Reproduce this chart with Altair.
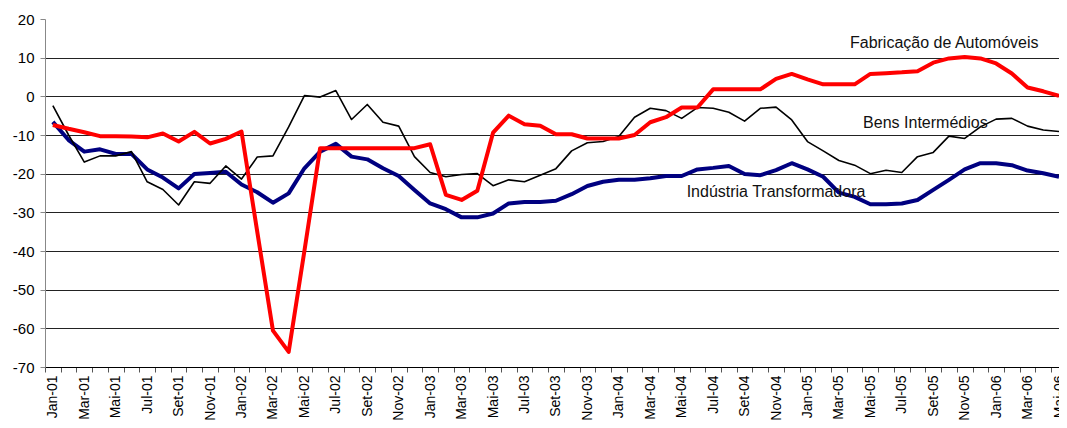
import json
import altair as alt
import pandas as pd

# ---- categories (x) ----
month_names = ["Jan", "Fev", "Mar", "Abr", "Mai", "Jun", "Jul", "Ago", "Set", "Out", "Nov", "Dez"]
months = [f"{m}-{y:02d}" for y in range(1, 7) for m in month_names][:65]

# ---- series values ----
fabricacao = [-7.4, -8.4, -9.3, -10.3, -10.3, -10.4, -10.6, -9.6, -11.7, -9.2, -12.2, -11.0,
              -9.1, -35.0, -60.6, -66.1, -40.0, -13.4, -13.4, -13.4, -13.4, -13.4, -13.4, -13.4,
              -12.4, -25.5, -26.8, -24.4, -9.4, -5.0, -7.2, -7.6, -9.8, -9.8, -10.9, -10.9,
              -10.9, -10.0, -6.7, -5.4, -2.9, -2.9, 1.8, 1.8, 1.8, 1.8, 4.5, 5.8,
              4.4, 3.1, 3.1, 3.1, 5.8, 6.0, 6.2, 6.5, 8.7, 9.8, 10.2, 9.8,
              8.5, 5.9, 2.3, 1.3, 0.1]
bens = [-2.4, -10.0, -17.0, -15.4, -15.4, -14.3, -22.1, -24.1, -28.1, -22.1, -22.5, -18.0,
        -21.4, -15.7, -15.4, -7.9, 0.2, -0.2, 1.5, -6.0, -2.1, -6.7, -7.7, -15.6,
        -19.7, -20.8, -20.2, -20.0, -23.1, -21.6, -22.1, -20.4, -18.7, -14.1, -12.0, -11.7,
        -10.4, -5.4, -3.1, -3.7, -5.7, -2.9, -3.1, -4.1, -6.4, -3.1, -2.8, -6.1,
        -11.7, -14.1, -16.6, -17.8, -20.0, -19.1, -19.7, -15.6, -14.5, -10.3, -10.9, -7.9,
        -5.9, -5.7, -7.7, -8.7, -9.1]
industria = [-6.6, -11.3, -14.3, -13.7, -14.9, -14.9, -18.9, -21.0, -23.8, -20.1, -19.8, -19.5,
             -22.8, -24.8, -27.5, -25.1, -18.6, -14.3, -12.3, -15.6, -16.3, -18.6, -20.6, -24.2,
             -27.7, -29.2, -31.3, -31.3, -30.3, -27.7, -27.3, -27.3, -27.0, -25.3, -23.2, -22.1,
             -21.6, -21.6, -21.2, -20.6, -20.6, -18.9, -18.5, -18.0, -20.1, -20.4, -19.1, -17.3,
             -18.9, -20.8, -24.9, -26.0, -27.9, -27.9, -27.7, -26.8, -24.2, -21.6, -18.9, -17.3,
             -17.3, -17.8, -19.2, -19.9, -20.8]

# ---- annotations ----
ann_text = ["Fabricação de Automóveis", "Bens Intermédios", "Indústria Transformadora"]
ann_x = [56.7, 55.5, 46.0]
ann_y = [13.7, -6.8, -24.7]

y_ticks = list(range(-70, 30, 10))

df = pd.DataFrame({"i": list(range(len(months))), "month": months,
                   "auto": fabricacao, "bens": bens, "ind": industria})
ann = pd.DataFrame({"t": ann_text, "x": ann_x, "y": ann_y})

FONT = "Liberation Sans"

tick_vals = [k - 0.5 for k in range(65)] + list(range(0, 65, 2))
label_expr = f"datum.value % 2 === 0 ? {json.dumps(months)}[datum.value] : ''"

x_scale = alt.Scale(domain=[-0.5, 64], nice=False, zero=False)
x_axis = alt.Axis(
    values=tick_vals,
    labelExpr=label_expr,
    tickOpacity={"condition": {"test": "datum.value % 1 === 0", "value": 0}, "value": 1},
    labelAngle=270,
    labelOverlap=False,
    labelFlush=False,
    labelBound=False,
    labelFontSize=14,
    grid=False,
    title=None,
    tickSize=5,
    tickColor="#555555",
    domainColor="#000000",
    labelPadding=3,
)

y_scale = alt.Scale(domain=[-70, 20], nice=False, zero=False)
y_axis = alt.Axis(
    values=y_ticks,
    labelExpr="'' + datum.value",
    labelOverlap=False,
    labelFlush=False,
    title=None,
    grid=True,
    gridColor="#222222",
    gridWidth=1,
    gridOpacity={"condition": {"test": "datum.value === 20", "value": 0}, "value": 1},
    domainColor="#888888",
    tickColor="#888888",
    tickSize=5,
    labelPadding=6,
)

base = alt.Chart(df)


def series(col, color, width):
    return base.mark_line(color=color, strokeWidth=width, strokeJoin="round").encode(
        x=alt.X("i:Q", scale=x_scale, axis=x_axis),
        y=alt.Y(f"{col}:Q", scale=y_scale, axis=y_axis),
    )


text = alt.Chart(ann).mark_text(
    font=FONT, fontSize=16, color="#111111", align="center", baseline="middle"
).encode(
    x=alt.X("x:Q", scale=x_scale, axis=x_axis),
    y=alt.Y("y:Q", scale=y_scale, axis=y_axis),
    text="t:N",
)

chart = alt.layer(
    series("ind", "#000080", 4),
    series("bens", "#000000", 1.6),
    series("auto", "#FF0000", 4),
    text,
).properties(
    width=1014,
    height=348,
    autosize=alt.AutoSizeParams(type="none"),
    padding={"left": 37, "top": 11, "right": 0, "bottom": 53},
).configure_view(
    stroke=None
).configure_axis(
    labelFont=FONT,
    labelFontSize=15,
    labelColor="#000000",
)

chart.save("out.html", embed_options={"renderer": "svg", "actions": False})
